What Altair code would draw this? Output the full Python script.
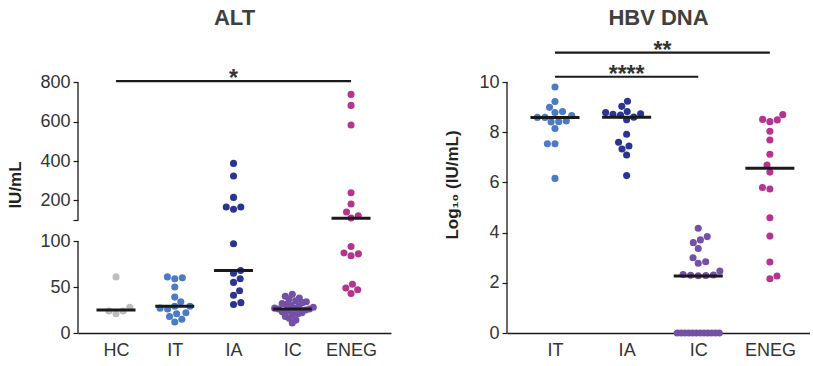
import math
from collections import defaultdict
import altair as alt
import pandas as pd

# ---------------- data ----------------
ALT_GROUPS = ["HC", "IT", "IA", "IC", "ENEG"]
ALT_HC = [21, 28, 24, 24, 61]
ALT_IT = [60, 61, 59, 50, 39, 29, 29, 27, 26, 34, 22, 21, 18, 15, 12]
ALT_IA = [388, 324, 215, 166, 166, 155, 97, 68, 65, 59, 55, 46, 41, 33, 31]
ALT_IC = [42, 40, 38, 37, 35, 34, 33, 32, 31, 30, 29, 28, 27, 27, 26, 26,
          25, 24, 23, 22, 21, 20, 18, 16, 14, 11]
ALT_ENEG = [739, 683, 583, 239, 181, 141, 122, 110, 94, 87, 86, 84, 53, 49, 47, 43]
ALT_MEDIANS = [25, 29, 68, 26, 109]
ALT_TICKS = [0, 50, 100, 200, 400, 600, 800]
ALT_SIG = [("HC", "ENEG", "*", 807)]

DNA_GROUPS = ["IT", "IA", "IC", "ENEG"]
DNA_IT = [9.80, 9.22, 8.99, 8.59, 8.66, 8.82, 8.78, 8.59, 8.45, 8.42, 8.41, 8.15, 7.54, 7.54, 6.16]
DNA_IA = [9.23, 9.03, 8.78, 8.71, 8.60, 8.68, 8.82, 8.73, 8.50, 7.92, 7.60, 7.45, 7.33, 7.09, 6.27]
DNA_IC = [4.17, 3.84, 3.71, 3.60, 3.37, 3.00, 2.78, 2.84, 2.47, 2.33, 2.31, 2.30, 2.29, 2.28,
          0, 0, 0, 0, 0, 0, 0, 0, 0, 0, 0, 0]
DNA_ENEG = [8.70, 8.42, 8.51, 8.49, 8.04, 7.69, 7.12, 6.69, 6.41, 5.80, 5.74, 4.59, 3.86, 2.83, 2.16, 2.27]
DNA_MEDIANS = [8.59, 8.60, 2.27, 6.56]
DNA_TICKS = [0, 2, 4, 6, 8, 10]
DNA_SIG = [("IT", "IC", "****", 10.21), ("IT", "ENEG", "**", 11.17)]

COLORS = {"HC": "#bdbdbd", "IT": "#4a7bc4", "IA": "#2b3590", "IC": "#7450a6", "ENEG": "#b3358f"}

# ---------------- layout parameters ----------------
FONT = "Liberation Sans"
PLOT_H = 297
LEFT_W, RIGHT_W = 313, 303
XDOM_L = [-0.647, 4.68]
XDOM_R = [-0.67, 3.56]
STEP_L = LEFT_W / (XDOM_L[1] - XDOM_L[0])
STEP_R = RIGHT_W / (XDOM_R[1] - XDOM_R[0])
LOW_PX = 0.92          # px per unit, lower ALT segment (0-100)
BREAK_GAP = 21         # px gap between segments
UP_PX = 0.19657        # px per unit, upper ALT segment (100-800)
DNA_PX = 25.1          # px per log unit
DOT_D = 7.6
DOT_SIZE = 50
MAX_HALF = 21
TEXT = "#333333"
LABEL_SIZE = 18


def alt_disp(v):
    if v <= 100:
        return v * LOW_PX
    return 100 * LOW_PX + BREAK_GAP + (v - 100) * UP_PX


BREAK_DISP = 100 * LOW_PX + BREAK_GAP


def swarm(ys, d, max_half):
    n = len(ys)
    off = [None] * n
    placed = []
    ties = defaultdict(list)
    for i, y in enumerate(ys):
        ties[round(y, 6)].append(i)
    fixed = False
    for y, idx in ties.items():
        k = len(idx)
        if k > 1 and (k - 1) * d > 2 * max_half:
            fixed = True
            s = 2 * max_half / (k - 1)
            for j, i in enumerate(idx):
                off[i] = (j - (k - 1) / 2) * s
                placed.append((ys[i], off[i]))
    order = sorted([i for i in range(n) if off[i] is None], key=lambda i: ys[i])
    flip = 1
    for i in order:
        y = ys[i]
        near = [(py, px) for py, px in placed if abs(py - y) < d]
        cands = [0.0]
        for py, px in near:
            dx = math.sqrt(d * d - (py - y) ** 2)
            cands += [px - dx, px + dx]

        def ok(c):
            return all(abs(c - px) >= math.sqrt(d * d - (py - y) ** 2) - 1e-6 for py, px in near)

        valid = [c for c in cands if ok(c)]
        best = min(valid, key=lambda c: (round(abs(c), 4), flip * c))
        flip = -flip
        off[i] = best
        placed.append((y, best))
    if not fixed:
        m = max(abs(o) for o in off)
        if m > max_half:
            off = [o * max_half / m for o in off]
    return off


def build_points(groups, series, fdisp, step, pxper):
    rows = []
    for gi, (g, vals) in enumerate(zip(groups, series)):
        ys = [fdisp(v) for v in vals]
        offs = swarm([y * pxper for y in ys], DOT_D, MAX_HALF)
        for v, y, o in zip(vals, ys, offs):
            rows.append({"group": g, "xpos": gi + o / step, "yd": y, "value": v,
                         "color": COLORS[g]})
    return pd.DataFrame(rows)


def label_expr(pairs):
    expr = "''"
    for disp, lab in reversed(sorted(pairs)):
        expr = f"datum.value < {disp + 0.05} ? '{lab}' : ({expr})"
    return expr


def panel(groups, series, medians, fdisp, pxper, step, xdom, width, ydom, yticks_pairs,
          axis_segments, sig, title, ytitle, med_half_px, title_pad):
    pts = build_points(groups, series, fdisp, step, pxper)
    med = pd.DataFrame({
        "x1": [i - med_half_px / step for i in range(len(groups))],
        "x2": [i + med_half_px / step for i in range(len(groups))],
        "ym": [fdisp(m) for m in medians],
    })
    axl = pd.DataFrame({"ax": [xdom[0]] * len(axis_segments),
                        "y1": [s[0] for s in axis_segments],
                        "y2": [s[1] for s in axis_segments]})
    sg = pd.DataFrame({
        "x1": [groups.index(a) for a, b, t, l in sig],
        "x2": [groups.index(b) for a, b, t, l in sig],
        "xc": [(groups.index(a) + groups.index(b)) / 2 for a, b, t, l in sig],
        "ys": [fdisp(l) for a, b, t, l in sig],
        "label": [t for a, b, t, l in sig],
    })
    xs = alt.Scale(domain=xdom, nice=False, zero=False)
    ys = alt.Scale(domain=ydom, nice=False, zero=False)
    names = "[" + ",".join(f"'{g}'" for g in groups) + "]"
    xaxis = alt.Axis(values=list(range(len(groups))), labelExpr=f"{names}[datum.value]",
                     ticks=False, grid=False, title=None, labelFontSize=LABEL_SIZE,
                     labelColor=TEXT, labelPadding=8, domainColor="#1a1a1a",
                     domainWidth=1.5, labelFont=FONT)
    yaxis = alt.Axis(values=[p[0] for p in yticks_pairs], labelExpr=label_expr(yticks_pairs),
                     domain=False, grid=False, title=ytitle, tickSize=5,
                     tickColor="#1a1a1a", tickWidth=1.2, labelFontSize=LABEL_SIZE,
                     labelColor=TEXT, labelPadding=3, labelFont=FONT,
                     titleFont=FONT, titleFontSize=17, titleFontWeight="bold",
                     titleColor="#222222", titlePadding=title_pad)
    X = lambda f: alt.X(f, scale=xs, axis=xaxis)
    Y = lambda f: alt.Y(f, scale=ys, axis=yaxis)
    dots = alt.Chart(pts).mark_circle(size=DOT_SIZE, opacity=1).encode(
        x=X("xpos:Q"), y=Y("yd:Q"), color=alt.Color("color:N", scale=None))
    meds = alt.Chart(med).mark_rule(strokeWidth=3, color="#1a1a1a").encode(
        x=X("x1:Q"), x2="x2:Q", y=Y("ym:Q"))
    axr = alt.Chart(axl).mark_rule(strokeWidth=1.3, color="#1a1a1a").encode(
        x=X("ax:Q"), y=Y("y1:Q"), y2="y2:Q")
    sgr = alt.Chart(sg).mark_rule(strokeWidth=2.2, color="#1a1a1a").encode(
        x=X("x1:Q"), x2="x2:Q", y=Y("ys:Q"))
    sgt = alt.Chart(sg).mark_text(fontSize=23, fontWeight="bold", font=FONT, color="#333333",
                                  baseline="alphabetic", dy=5).encode(
        x=X("xc:Q"), y=Y("ys:Q"), text="label:N")
    return alt.layer(dots, meds, axr, sgr, sgt).properties(
        width=width, height=PLOT_H,
        title=alt.TitleParams(title, fontSize=22, fontWeight="bold", color="#404040",
                              font=FONT, anchor="middle", offset=6))


alt_pairs = [(alt_disp(t), str(t)) for t in ALT_TICKS] + [(BREAK_DISP, "")]
left = panel(ALT_GROUPS, [ALT_HC, ALT_IT, ALT_IA, ALT_IC, ALT_ENEG], ALT_MEDIANS,
             alt_disp, 1.0, STEP_L, XDOM_L, LEFT_W, [0, PLOT_H], alt_pairs,
             [(alt_disp(0), alt_disp(100)), (BREAK_DISP, alt_disp(800))],
             ALT_SIG, "ALT", "IU/mL", 19.5, 15)

dna_pairs = [(t, str(t)) for t in DNA_TICKS]
right = panel(DNA_GROUPS, [DNA_IT, DNA_IA, DNA_IC, DNA_ENEG], DNA_MEDIANS,
              lambda v: v, DNA_PX, STEP_R, XDOM_R, RIGHT_W, [0, PLOT_H / DNA_PX],
              dna_pairs, [(0, 10)], DNA_SIG, "HBV DNA", "Log\u2081\u2080 (IU/mL)", 24.5, 17)

chart = alt.hconcat(left, right, spacing=52).properties(
    padding={"left": 6, "top": 7, "right": 0, "bottom": 0}
).configure_view(stroke=None).configure_axis(
    titleFontSize=17, titleFontWeight="bold", titleFont=FONT, titleColor="#222222"
)

chart.save("out.html", embed_options={"renderer": "svg", "actions": False})
